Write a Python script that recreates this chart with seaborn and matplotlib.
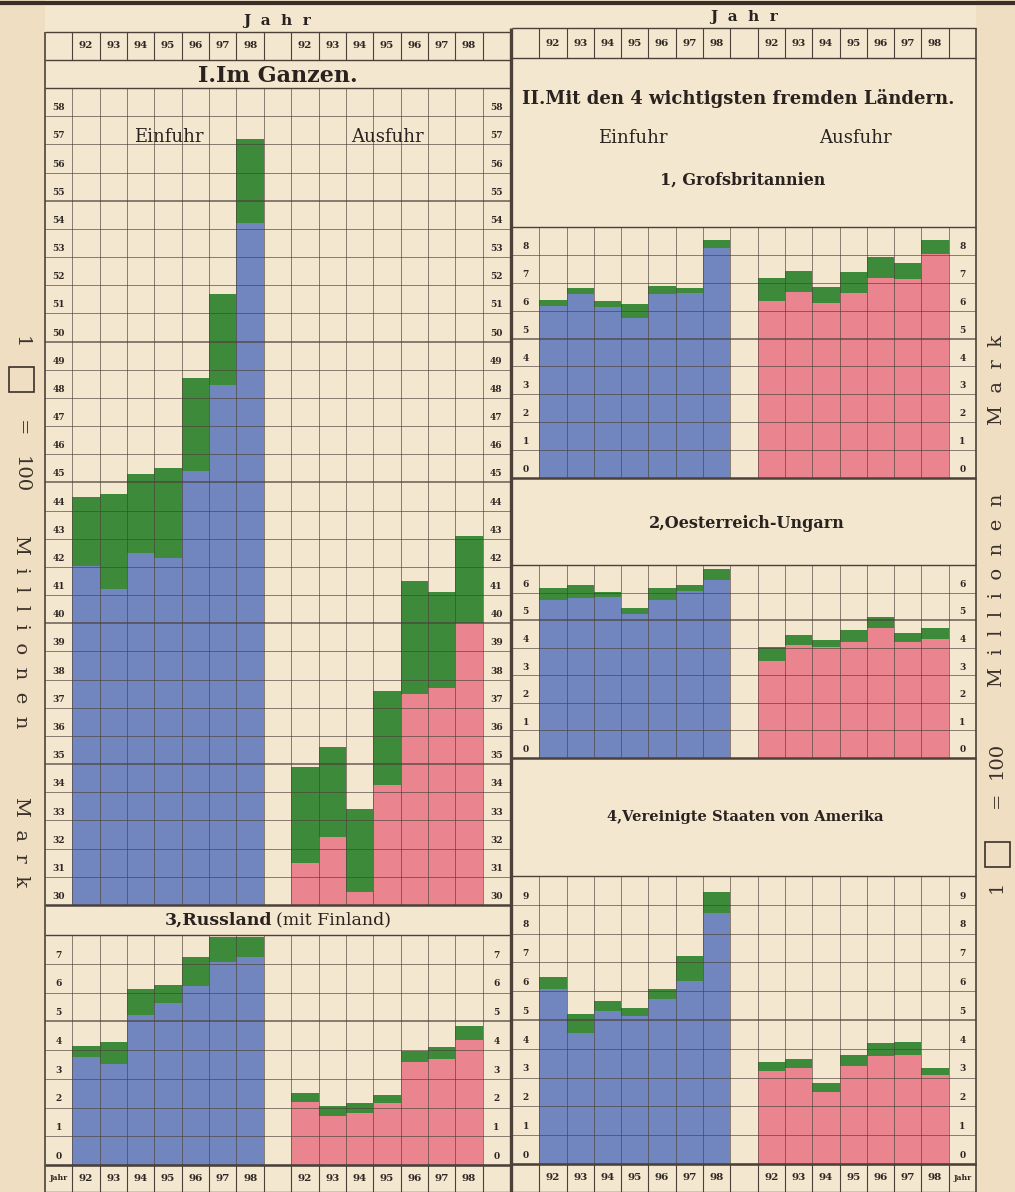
# Deutscher Aussenhandel 1892-1898 (in 100 Millionen Mark)

import numpy as np
import matplotlib
matplotlib.use("Agg")
import matplotlib.pyplot as plt
import seaborn as sns
from matplotlib.patches import Rectangle

sns.set_theme(style="white")
plt.rcParams['font.family'] = ['DejaVu Serif', 'DejaVu Sans']

# Data (values in 100 Mio. Mark)
years = ["92", "93", "94", "95", "96", "97", "98"]

# I. Im Ganzen
ganz_ein_top = [44.5, 44.6, 45.3, 45.5, 48.7, 51.7, 57.2]
ganz_ein_base = [42.05, 41.2, 42.5, 42.3, 45.4, 48.45, 54.2]
ganz_aus_top = [34.9, 35.6, 33.4, 37.6, 41.5, 41.1, 43.1]
ganz_aus_base = [31.5, 32.4, 30.45, 34.25, 37.5, 37.7, 40.0]

# 1, Grofsbritannien
gb_ein_top = [6.37, 6.82, 6.35, 6.25, 6.88, 6.82, 8.52]
gb_ein_base = [6.15, 6.58, 6.12, 5.75, 6.58, 6.64, 8.25]
gb_aus_top = [7.18, 7.42, 6.84, 7.39, 7.92, 7.72, 8.55]
gb_aus_base = [6.34, 6.67, 6.28, 6.64, 7.18, 7.12, 8.02]

# 2, Oesterreich-Ungarn
au_ein_top = [6.16, 6.26, 6.01, 5.45, 6.16, 6.26, 6.86]
au_ein_base = [5.73, 5.79, 5.85, 5.24, 5.73, 6.04, 6.46]
au_aus_top = [4.02, 4.45, 4.27, 4.63, 5.12, 4.55, 4.72]
au_aus_base = [3.53, 4.11, 4.02, 4.21, 4.72, 4.21, 4.33]

# 3, Russland
ru_ein_top = [4.15, 4.27, 6.11, 6.26, 7.22, 7.94, 7.94]
ru_ein_base = [3.77, 3.51, 5.22, 5.62, 6.23, 7.07, 7.22]
ru_aus_top = [2.49, 2.05, 2.14, 2.43, 3.98, 4.12, 4.83]
ru_aus_base = [2.20, 1.70, 1.82, 2.17, 3.57, 3.68, 4.35]

# 4, Vereinigte Staaten
us_ein_top = [6.48, 5.20, 5.66, 5.43, 6.09, 7.23, 9.44]
us_ein_base = [6.07, 4.56, 5.31, 5.14, 5.72, 6.36, 8.72]
us_aus_top = [3.53, 3.63, 2.81, 3.80, 4.21, 4.23, 3.34]
us_aus_base = [3.22, 3.34, 2.49, 3.42, 3.74, 3.80, 3.10]

PAPER = '#f4e7d0'
STRIP = '#efdec2'
BLUE = '#7186bf'
GREEN = '#3d8a3b'
PINK = '#ea8590'
LINE = '#4b4139'

W, H = 1015, 1192
fig = plt.figure(figsize=(W / 100, H / 100), dpi=100)
fig.patch.set_facecolor(PAPER)

LX0, LX1 = 45, 510   # left half
RX0, RX1 = 512, 976  # right half


def px_axes(x0, y0, x1, y1, z):
    ax = fig.add_axes([x0 / W, 1 - y1 / H, (x1 - x0) / W, (y1 - y0) / H], zorder=z)
    ax.axis('off')
    return ax


bg = px_axes(0, 0, W, H, 0)
bg.set_xlim(0, W)
bg.set_ylim(H, 0)
top = px_axes(0, 0, W, H, 5)
top.set_xlim(0, W)
top.set_ylim(H, 0)

bg.add_patch(Rectangle((0, 0), LX0, H, color=STRIP, lw=0))
bg.add_patch(Rectangle((RX1, 0), W - RX1, H, color=STRIP, lw=0))


def panel(x0, x1, y0, y1, ymin, ymax, ein_top, ein_base, aus_top, aus_base):
    ax = px_axes(x0, y0, x1, y1, 2)
    n = len(years)
    pos_e = np.arange(n) + 1.5
    pos_a = np.arange(n) + n + 2.5
    for pos, tp, bs, col in [(pos_e, ein_top, ein_base, BLUE), (pos_a, aus_top, aus_base, PINK)]:
        sns.barplot(x=pos, y=tp, native_scale=True, orient='x', width=1, color=GREEN,
                    saturation=1, linewidth=0, errorbar=None, ax=ax)
        sns.barplot(x=pos, y=bs, native_scale=True, orient='x', width=1, color=col,
                    saturation=1, linewidth=0, errorbar=None, ax=ax)
    ax.axis('off')
    ax.set_xlim(0, 17)
    ax.set_ylim(ymin, ymax)
    for v in range(ymin + 1, ymax):
        ax.axhline(v, color=LINE, lw=1.4 if v % 5 == 0 else 0.7, alpha=0.65, zorder=5)
    for c in range(1, 17):
        ax.axvline(c, color=LINE, lw=0.7, alpha=0.65, zorder=5)
    for v in range(ymin, ymax):
        for c in (0.5, 16.5):
            ax.text(c, v + 0.3, str(v), ha='center', va='center', fontsize=6.5,
                    fontweight='bold', color='#2e2622', zorder=6)
    return ax


panel(LX0, LX1, 88, 905, 30, 59, ganz_ein_top, ganz_ein_base, ganz_aus_top, ganz_aus_base)
panel(LX0, LX1, 935, 1165, 0, 8, ru_ein_top, ru_ein_base, ru_aus_top, ru_aus_base)
panel(RX0, RX1, 227, 478, 0, 9, gb_ein_top, gb_ein_base, gb_aus_top, gb_aus_base)
panel(RX0, RX1, 565, 758, 0, 7, au_ein_top, au_ein_base, au_aus_top, au_aus_base)
panel(RX0, RX1, 876, 1164, 0, 10, us_ein_top, us_ein_base, us_aus_top, us_aus_base)


def hl(y, x0, x1, lw=1.0):
    top.plot([x0, x1], [y, y], color=LINE, lw=lw, solid_capstyle='butt')


def vl(x, y0, y1, lw=1.0):
    top.plot([x, x], [y0, y1], color=LINE, lw=lw, solid_capstyle='butt')


def year_row(x0, x1, y0, y1, jahr_col=None):
    cw = (x1 - x0) / 17
    hl(y0, x0, x1)
    hl(y1, x0, x1)
    for c in range(1, 17):
        vl(x0 + c * cw, y0, y1, 0.8)
    yc = (y0 + y1) / 2
    for i, yr in enumerate(years):
        for start in (1, 9):
            bg.text(x0 + (start + i + 0.5) * cw, yc, yr, ha='center', va='center',
                    fontsize=7.5, fontweight='bold', color='#2e2622')
    if jahr_col is not None:
        bg.text(x0 + (jahr_col + 0.5) * cw, yc, "Jahr", ha='center', va='center',
                fontsize=5.5, fontweight='bold', color='#2e2622')


# frame of the table
top.plot([0, W], [3, 3], color='#3a2e27', lw=3)
vl(LX0, 32, H, 1.2)
vl(511, 28, H, 2.4)
vl(RX1, 28, H, 1.2)

# left half
year_row(LX0, LX1, 32, 60)
hl(88, LX0, LX1)
hl(905, LX0, LX1, 1.8)
hl(935, LX0, LX1)
year_row(LX0, LX1, 1165, H, jahr_col=0)
hl(1165, LX0, LX1, 1.8)

# right half
year_row(RX0, RX1, 28, 58)
hl(227, RX0, RX1)
hl(478, RX0, RX1, 1.8)
hl(565, RX0, RX1)
hl(758, RX0, RX1, 1.8)
hl(876, RX0, RX1)
year_row(RX0, RX1, 1164, H, jahr_col=16)
hl(1164, RX0, RX1, 1.8)

INK = '#2a221e'
bg.text((LX0 + LX1) / 2, 21, "J  a  h  r", ha='center', va='center', fontsize=11,
        fontweight='bold', color=INK)
bg.text((RX0 + RX1) / 2, 17, "J  a  h  r", ha='center', va='center', fontsize=11,
        fontweight='bold', color=INK)

bg.text(278, 76, "I.Im Ganzen.", ha='center', va='center', fontsize=16,
        fontweight='bold', color=INK)
bg.text(169, 137, "Einfuhr", ha='center', va='center', fontsize=13, color=INK)
bg.text(387, 137, "Ausfuhr", ha='center', va='center', fontsize=13, color=INK)

bg.text(738, 98, "II.Mit den 4 wichtigsten fremden Ländern.", ha='center', va='center',
        fontsize=13, fontweight='bold', color=INK)
bg.text(633, 138, "Einfuhr", ha='center', va='center', fontsize=13, color=INK)
bg.text(855, 138, "Ausfuhr", ha='center', va='center', fontsize=13, color=INK)
bg.text(743, 180, "1, Grofsbritannien", ha='center', va='center', fontsize=11.5,
        fontweight='bold', color=INK)
bg.text(747, 524, "2,Oesterreich-Ungarn", ha='center', va='center', fontsize=11.5,
        fontweight='bold', color=INK)
bg.text(745, 817, "4,Vereinigte Staaten von Amerika", ha='center', va='center',
        fontsize=10.5, fontweight='bold', color=INK)
bg.text(272, 920, "3,Russland", ha='right', va='center', fontsize=12.5,
        fontweight='bold', color=INK)
bg.text(276, 920, "(mit Finland)", ha='left', va='center', fontsize=12.5, color=INK)

# side legends: 1 square = 100 Millionen Mark
SIDE = '#3a302a'
for x, rot, items, box in [
    (21, -90, [(342, "1"), (428, "="), (475, "100"), (632, "M  i  l  l  i  o  n  e  n"),
               (842, "M  a  r  k")], (9, 367)),
    (997, 90, [(887, "1"), (800, "="), (760, "100"), (590, "M  i  l  l  i  o  n  e  n"),
               (380, "M  a  r  k")], (985, 842)),
]:
    for y, s in items:
        bg.text(x, y, s, rotation=rot, ha='center', va='center', fontsize=14, color=SIDE)
    bg.add_patch(Rectangle(box, 25, 25, fill=False, ec=SIDE, lw=1.2))

fig.savefig("out.png", dpi=100, facecolor=PAPER)
